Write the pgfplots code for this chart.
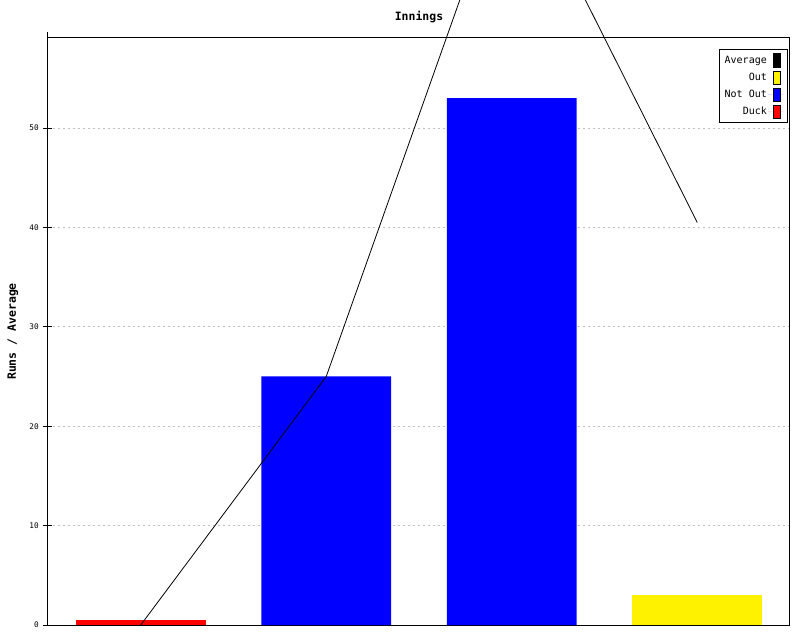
\documentclass[border=0pt]{standalone}
\usepackage{pgfplots}
\pgfplotsset{compat=1.18}
\usepackage{fontspec}
\setmainfont{DejaVu Sans Mono}
\newcommand{\swatch}[1]{\path[draw=none] (0pt,0pt) -- (11.5pt,0pt); \draw[fill=#1, draw=black, line width=0.6pt] (4pt,-5pt) rectangle (9.25pt,5pt);}
\begin{document}
\begin{tikzpicture}
\useasboundingbox (-36pt,-11.25pt) rectangle (564pt,468.75pt);
\clip (-36pt,-11.25pt) rectangle (564pt,468.75pt);
\begin{axis}[
  at={(0pt,0pt)}, anchor=south west,
  scale only axis, width=556.5pt, height=440.25pt,
  clip=false,
  xmin=-0.5, xmax=3.5, ymin=0, ymax=59.05,
  xtick=\empty,
  ytick={0,10,...,50},
  ytick pos=left,
  ymajorgrids,
  grid style={dash pattern=on 1.5pt off 2.25pt, color=black!25, line width=0.6pt},
  tick align=center, major tick length=6.75pt,
  tick style={black, line width=0.6pt},
  yticklabel style={font=\fontsize{5.8}{7}\selectfont},
  /pgf/number format/assume math mode=true,
  axis line style={line width=0.75pt},
  ylabel={Runs / Average},
  ylabel style={font=\bfseries\fontsize{8.6}{10}\selectfont, at={(rel axis cs:0,0.5)}, anchor=center, yshift=26.25pt},
  title={Innings},
  title style={font=\bfseries\fontsize{8.6}{10}\selectfont, at={(rel axis cs:0.5,1)}, anchor=center, yshift=9.75pt},
  reverse legend,
  legend cell align=right, legend plot pos=right,
  legend style={at={(rel axis cs:1,1)}, anchor=north east, xshift=-1.5pt, yshift=-8.25pt,
    font=\fontsize{7.5}{9}\selectfont, draw=black, line width=0.75pt, inner sep=3pt,
    row sep=2.2pt,
    nodes={inner sep=1pt, text height=5.5pt, text depth=1.5pt}},
]
\addplot[ybar, bar width=0.7, bar shift=0pt, fill=red, draw=none,
  legend image code/.code={\swatch{red}}]
  coordinates {(0,0.5)};
\addlegendentry{Duck}
\addplot[ybar, bar width=0.7, bar shift=0pt, fill=blue, draw=none,
  legend image code/.code={\swatch{blue}}]
  coordinates {(1,25) (2,53)};
\addlegendentry{Not Out}
\addplot[ybar, bar width=0.7, bar shift=0pt, fill=yellow, draw=none,
  legend image code/.code={\swatch{yellow}}]
  coordinates {(3,3)};
\addlegendentry{Out}
\addplot[black, line width=0.6pt, sharp plot, mark=none,
  legend image code/.code={\swatch{black}}]
  coordinates {(0,0) (1,25) (2,77.6) (3,40.5)};
\addlegendentry{Average}
\draw[line width=0.75pt] (rel axis cs:0,1) -- ++(0pt,4.2pt);
\end{axis}
\end{tikzpicture}
\end{document}
